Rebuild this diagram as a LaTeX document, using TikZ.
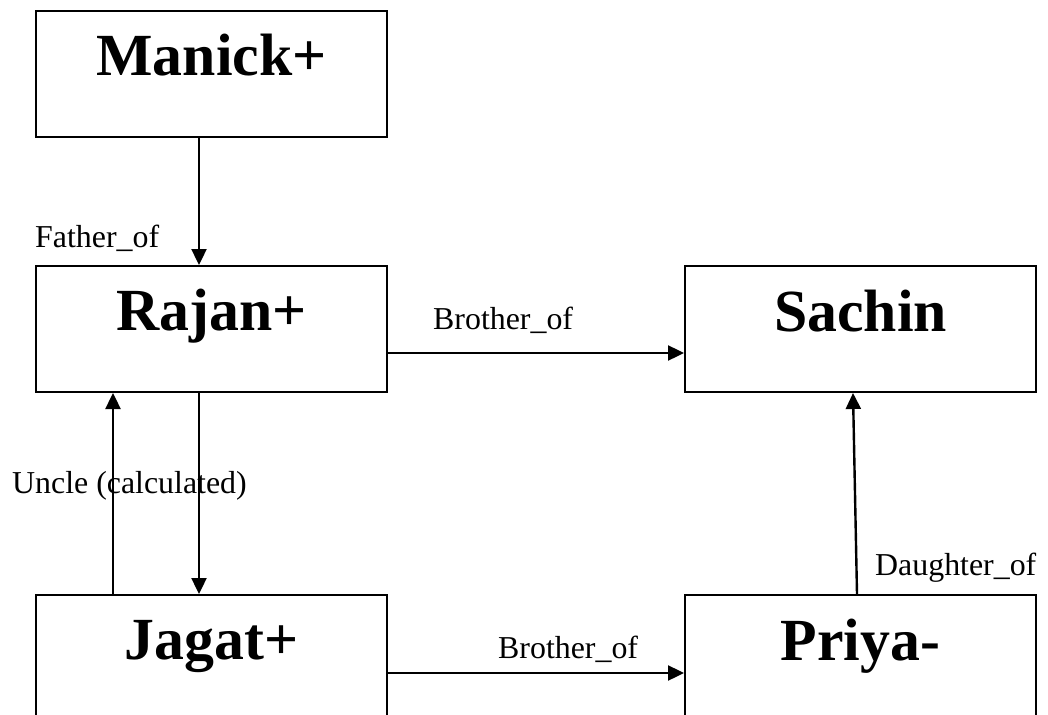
\documentclass[tikz,border=0pt]{standalone}
\usepackage{fontspec}
\setmainfont{Liberation Serif}
\usetikzlibrary{arrows.meta}
\begin{document}
\begin{tikzpicture}[x=1bp,y=-1bp,
  person/.style={draw,line width=2bp,rectangle,anchor=north west,
    minimum width=351bp,minimum height=126bp,inner sep=0pt},
  pname/.style={anchor=base,inner sep=0pt,font=\fontsize{60}{66}\selectfont\bfseries},
  rel/.style={anchor=base west,inner sep=0pt,font=\fontsize{32}{38}\selectfont},
  arr/.style={line width=2.4bp,-{Triangle[length=16bp,width=15bp]}}]
  \useasboundingbox (0,0) rectangle (1048,715);
  \clip (0,0) rectangle (1048,715);

  % family members
  \node[person] (m) at (35,10) {};
  \node[person] (r) at (35,265) {};
  \node[person] (s) at (684,265) {};
  \node[person] (j) at (35,594) {};
  \node[person] (p) at (684,594) {};

  \node[pname] (mt) at ([yshift=-66bp]m.north) {Manick+};
  \node[pname] (rt) at ([yshift=-65bp]r.north) {Rajan+};
  \node[pname] (st) at ([yshift=-66bp]s.north) {Sachin};
  \node[pname] (jt) at ([yshift=-65bp]j.north) {Jagat+};
  \node[pname] (pt) at ([yshift=-66bp]p.north) {Priya-};

  % relations
  \draw[arr] ([xshift=-12.5bp]m.south) -- ([xshift=-12.5bp]r.north);
  \draw[arr] ([yshift=-24bp]r.east) -- ([yshift=-24bp]s.west);
  \draw[arr] ([xshift=-12.5bp]r.south) -- ([xshift=-12.5bp]j.north);
  \draw[arr] ([xshift=-98.5bp]j.north) -- ([xshift=-98.5bp]r.south);
  \draw[arr] ([yshift=-15bp]j.east) -- ([yshift=-15bp]p.west);
  \draw[arr] ([xshift=-3.5bp]p.north) -- ([xshift=-7.5bp]s.south);

  % relation labels
  \node[rel] (lf) at (35,247) {Father\_of};
  \node[rel] (lb1) at (433,329) {Brother\_of};
  \node[rel] (lu) at (12,493) {Uncle (calculated)};
  \node[rel] (ld) at (875,575) {Daughter\_of};
  \node[rel] (lb2) at (498,658) {Brother\_of};
\end{tikzpicture}
\end{document}
